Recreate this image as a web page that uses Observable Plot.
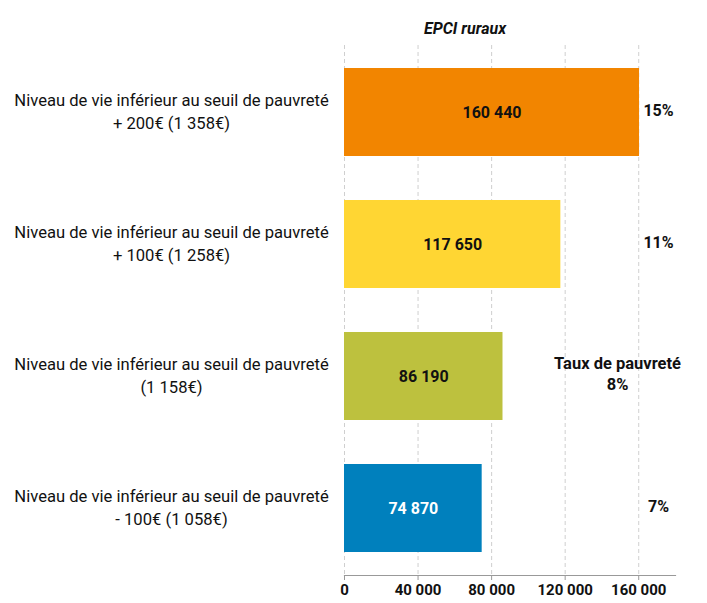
<!DOCTYPE html>
<html><head><meta charset="utf-8">
<script src="https://cdn.jsdelivr.net/npm/d3@7"></script>
<script src="https://cdn.jsdelivr.net/npm/@observablehq/plot@0.6"></script>
<style>body{margin:0;background:#fff;font-family:Roboto,sans-serif}</style>
</head><body><div id="chart"></div>
<script>
const categories = [
  "Niveau de vie inférieur au seuil de pauvreté\n+ 200€ (1 358€)",
  "Niveau de vie inférieur au seuil de pauvreté\n+ 100€ (1 258€)",
  "Niveau de vie inférieur au seuil de pauvreté\n(1 158€)",
  "Niveau de vie inférieur au seuil de pauvreté\n- 100€ (1 058€)"
];
const values = [160440, 117650, 86190, 74870];
const rates = ["15%", "11%", "8%", "7%"];
const colors = ["#F28500", "#FFD633", "#BDC13E", "#0080BD"];
const valueTextColors = ["#111", "#111", "#111", "#fff"];
const xTicks = [0, 40000, 80000, 120000, 160000];
const title = "EPCI ruraux";
const rateTitle = "Taux de pauvreté";

const fmt = v => d3.format(",")(v).replace(/,/g, " ");
const data = categories.map((c, i) => ({cat: c, value: values[i], rate: rates[i], color: colors[i], tc: valueTextColors[i]}));
const special = data.filter(d => d.rate === "8%");
const normal = data.filter(d => d.rate !== "8%");

const chart = Plot.plot({
  width: 707, height: 603,
  marginLeft: 344, marginRight: 32, marginTop: 45, marginBottom: 28,
  style: {fontFamily: "Roboto, sans-serif"},
  x: {domain: [0, 180000], ticks: xTicks, tickFormat: fmt, label: null},
  y: {domain: categories, paddingInner: 0.33, paddingOuter: 0.165, axis: null},
  marks: [
    Plot.gridX(xTicks, {stroke: "#bbb", strokeOpacity: 0.7, strokeDasharray: "4,3"}),
    Plot.barX(data, {y: "cat", x: "value", fill: "color"}),
    Plot.frame({anchor: "bottom", stroke: "#999", strokeWidth: 1.2}),
    Plot.axisX({ticks: xTicks, tickFormat: fmt, tickSize: 5, stroke: "#999", fontSize: 15, fontWeight: "bold", fill: "#111", tickPadding: 4, label: null}),
    Plot.text(data, {y: "cat", x: d => d.value / 2, text: d => fmt(d.value), fill: "tc", fontSize: 16, fontWeight: "bold"}),
    Plot.text(data, {y: "cat", x: 0, text: "cat", dx: -173, dy: -2, textAnchor: "middle", fontSize: 16.6, lineHeight: 1.35, fill: "#111"}),
    Plot.text(normal, {y: "cat", frameAnchor: "right", textAnchor: "middle", dx: -17, dy: -2, text: "rate", fontSize: 16, fontWeight: "bold", fill: "#111"}),
    Plot.text(special, {y: "cat", frameAnchor: "right", textAnchor: "middle", dx: -58, dy: -4, text: d => rateTitle + "\n" + d.rate, fontSize: 16.5, fontWeight: "bold", lineHeight: 1.3, fill: "#111"}),
    Plot.text([title], {frameAnchor: "top", dx: -45, dy: -23, fontSize: 16, fontWeight: "bold", fontStyle: "italic", fill: "#111"})
  ]
});
document.getElementById("chart").append(chart);
</script></body></html>
